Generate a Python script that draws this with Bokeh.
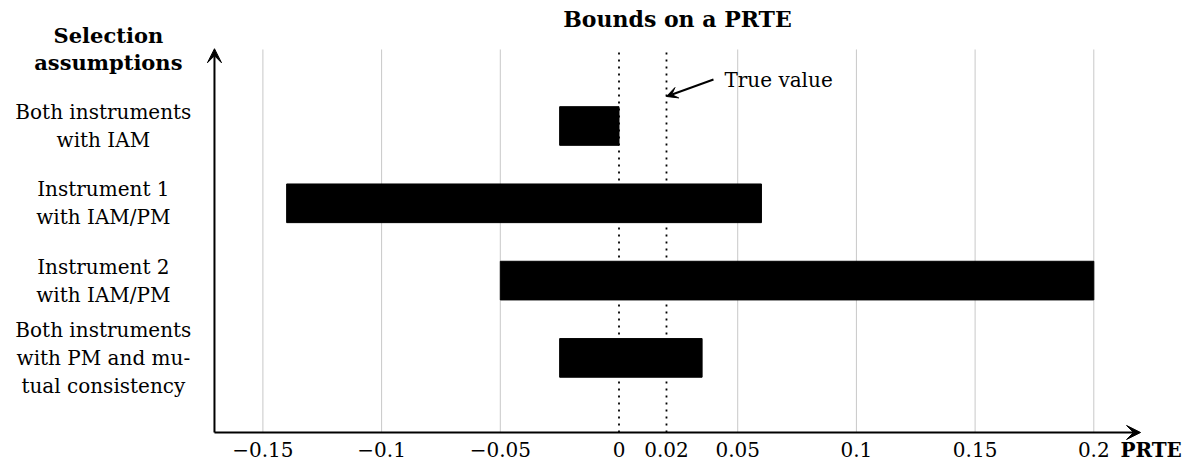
from bokeh.plotting import figure
from bokeh.models import (Range1d, FixedTicker, Arrow, VeeHead, Label, LinearAxis,
                          ColumnDataSource)
from bokeh.core.properties import value
from bokeh.embed import file_html
from bokeh.resources import INLINE

# ---- data ----
categories = [
    "Both instruments\nwith IAM",
    "Instrument 1\nwith IAM/PM",
    "Instrument 2\nwith IAM/PM",
    "Both instruments\nwith PM and mu-\ntual consistency",
]
lower_bounds = [-0.025, -0.14, -0.05, -0.025]
upper_bounds = [0.0, 0.06, 0.2, 0.035]
true_value = 0.02
tick_values = [-0.15, -0.1, -0.05, 0, 0.02, 0.05, 0.1, 0.15, 0.2]
tick_labels = ["\u22120.15", "\u22120.1", "\u22120.05", "0", "0.02", "0.05", "0.1", "0.15", "0.2"]
grid_values = [-0.15, -0.1, -0.05, 0.05, 0.1, 0.15, 0.2]
ref_lines = [0, true_value]

title_text = "Bounds on a PRTE"
y_title_text = "Selection\nassumptions"
x_title_text = "PRTE"
annot_text = "True value"

# ---- layout (data-space extents of the drawing) ----
SERIF = "DejaVu Serif"
n = len(categories)
ypos = [n - i for i in range(n)]          # first category at the top
XL, XR = -0.26053, 0.24452                # whole canvas in data units
YB, YT = -0.392, 5.6236
AX_X = -0.1704                            # vertical axis position
AX_Y = 0.035                              # horizontal axis position
GRID_TOP = 4.99
X_ARROW_END = 0.2197
Y_ARROW_END = 5.0

p = figure(width=1199, height=465, output_backend="svg", toolbar_location=None,
           x_range=Range1d(XL, XR), y_range=Range1d(YB, YT),
           x_axis_location=None, y_axis_location=None,
           min_border=0)
p.outline_line_color = None
p.background_fill_color = "white"
p.border_fill_color = "white"
p.xgrid.visible = False
p.ygrid.visible = False

# light gridlines
p.segment(x0=grid_values, y0=[AX_Y] * len(grid_values), x1=grid_values,
          y1=[GRID_TOP] * len(grid_values), line_color="#c8c8c8", line_width=1)
# dotted reference lines at 0 and true value
p.segment(x0=ref_lines, y0=[AX_Y] * 2, x1=ref_lines, y1=[GRID_TOP] * 2,
          line_color="black", line_width=1.8, line_dash="2 5")

# bars
p.hbar(y=ypos, left=lower_bounds, right=upper_bounds, height=0.5,
       fill_color="black", line_color="black")

# x axis with tick labels (line drawn as arrow)
xaxis = LinearAxis(fixed_location=AX_Y,
                   ticker=FixedTicker(ticks=tick_values),
                   major_label_overrides={v: l for v, l in zip(tick_values, tick_labels)},
                   axis_line_color=None, major_tick_line_color=None,
                   minor_tick_line_color=None, major_tick_in=0, major_tick_out=0,
                   major_label_text_font=SERIF, major_label_text_font_size="20px",
                   major_label_text_color="black", major_label_standoff=10)
p.add_layout(xaxis, "below")

p.add_layout(Arrow(x_start=AX_X, y_start=AX_Y, x_end=X_ARROW_END, y_end=AX_Y,
                   line_width=2, line_color="black",
                   end=VeeHead(size=14, fill_color="black", line_color="black")))
p.add_layout(Arrow(x_start=AX_X, y_start=AX_Y, x_end=AX_X, y_end=Y_ARROW_END,
                   line_width=2, line_color="black",
                   end=VeeHead(size=14, fill_color="black", line_color="black")))

# category labels
src = ColumnDataSource(dict(x=[-0.2172] * n, y=ypos, text=categories))
p.text(x="x", y="y", text="text", source=src, text_align="center",
       text_baseline="middle", text_font=value(SERIF), text_font_size="20px",
       text_line_height=1.16, text_color="black")

# y title
p.add_layout(Label(x=-0.2151, y=5.0, text=y_title_text, text_align="center",
                   text_baseline="middle", text_font=SERIF, text_font_style="bold",
                   text_font_size="21px", text_line_height=1.07, text_color="black"))
# title
p.add_layout(Label(x=0.02464, y=5.384, text=title_text, text_align="center",
                   text_baseline="middle", text_font=SERIF, text_font_style="bold",
                   text_font_size="22px", text_color="black"))
# x title, on the tick-label line
p.add_layout(Label(x=0.2112, y=AX_Y, y_offset=-6, text=x_title_text, text_align="left",
                   text_baseline="top", text_font=SERIF, text_font_style="bold",
                   text_font_size="20px", text_color="black"))

# true value annotation
p.add_layout(Arrow(x_start=0.0398, y_start=4.602, x_end=true_value, y_end=4.382,
                   line_width=2, line_color="black",
                   end=VeeHead(size=11, fill_color="black", line_color="black")))
p.add_layout(Label(x=0.0444, y=4.589, text=annot_text, text_align="left",
                   text_baseline="middle", text_font=SERIF, text_font_size="20px",
                   text_color="black"))

open("out.html", "w").write(file_html(p, INLINE))
